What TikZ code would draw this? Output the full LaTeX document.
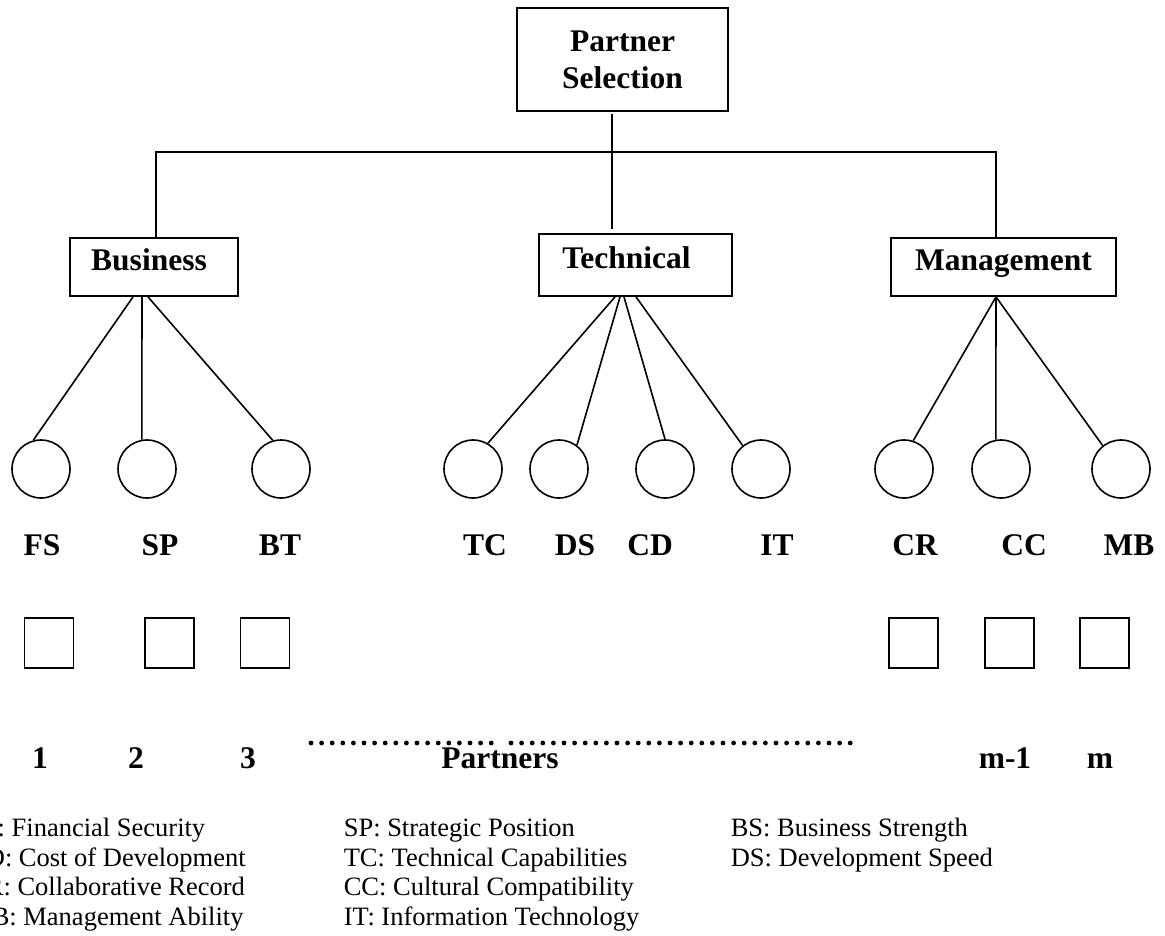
\documentclass[tikz,border=0pt]{standalone}
\usepackage{fontspec}
\setmainfont{Liberation Serif}
\newcommand\boldlabel{\fontsize{31.5}{37}\selectfont\bfseries}
\newcommand\legendtext{\fontsize{26.5}{30}\selectfont}
\begin{document}
\begin{tikzpicture}[x=1pt,y=-1pt,
  line width=1.6pt,
  catbox/.style={draw, line width=1.8pt, inner sep=0pt, font=\boldlabel,
                 text height=0.68em, text depth=0pt},
  crit/.style={draw, circle, minimum size=58pt, inner sep=0pt},
  slot/.style={draw, line width=1.8pt, minimum width=49pt, minimum height=50pt, inner sep=0pt},
  tag/.style={anchor=base, font=\boldlabel, inner sep=0pt},
  legend/.style={anchor=base west, font=\legendtext, inner sep=0pt},
  dotline/.style={line width=4.8pt, line cap=round, dash pattern=on 0pt off 10.6pt}]

\useasboundingbox (0,0) rectangle (1165,936);
\clip (0,0) rectangle (1165,936);

% goal and the three criterion groups
\node[catbox, minimum width=211pt, minimum height=103pt, align=center,
      text height=, text depth=] (ps) at (622.5,59.5) {Partner\\Selection};
\node[catbox, minimum width=168pt, minimum height=58pt] (bus) at (154,267) {\hspace*{-10pt}Business};
\node[catbox, minimum width=193pt, minimum height=62pt] (tech) at (635.5,265) {\hspace*{-18pt}Technical};
\node[catbox, minimum width=225pt, minimum height=58pt] (mgt) at (1003.5,267) {Management};

% tree junctions
\coordinate (trunk) at (612,152);
\coordinate (jl) at (156,152);
\coordinate (jr) at (996,152);

\draw[shorten <=2pt, shorten >=4pt] (trunk |- ps.south) -- (trunk |- tech.north);
\draw (jl |- bus.north) -- (jl) -- (jr) -- (jr |- mgt.north);

% sub-criteria
\node[crit] (fs) at (41,469) {};
\node[crit] (sp) at (147,469) {};
\node[crit] (bt) at (281,469) {};
\node[crit] (tc) at (473,469) {};
\node[crit] (ds) at (559,469) {};
\node[crit] (cd) at (665,469) {};
\node[crit] (it) at (761,469) {};
\node[crit] (cr) at (904,469) {};
\node[crit] (cc) at (1001,469) {};
\node[crit] (mb) at (1121,469) {};

\draw ([xshift=-21pt]bus.south) -- (fs.105);
\draw ([xshift=-12pt]bus.south) -- (sp.100);
\draw ([xshift=-6pt]bus.south) -- (bt.106);

\draw ([xshift=-20.5pt]tech.south) -- (tc.60);
\draw ([xshift=-15.5pt]tech.south) -- (ds.53);
\draw ([xshift=-11.5pt]tech.south) -- (cd.90);
\draw ([xshift=0.5pt]tech.south) -- (it.128);

\draw ([xshift=-7.5pt]mgt.south) -- (cr.72);
\draw ([xshift=-7.5pt]mgt.south) -- (cc.100);
\draw ([xshift=-7.5pt]mgt.south) -- (mb.128);

% sub-criteria labels
\node[tag] (lfs) at (42,555) {FS};
\node[tag] (lsp) at (160,555) {SP};
\node[tag] (lbt) at (280,555) {BT};
\node[tag] (ltc) at (485,555) {TC};
\node[tag] (lds) at (575,555) {DS};
\node[tag] (lcd) at (650,555) {CD};
\node[tag] (lit) at (777,555) {IT};
\node[tag] (lcr) at (915,555) {CR};
\node[tag] (lcc) at (1024,555) {CC};
\node[tag] (lmb) at (1129,555) {MB};

% partner alternatives
\node[slot] (p1) at (49,643) {};
\node[slot] (p2) at (169.5,643) {};
\node[slot] (p3) at (265,643) {};
\node[slot] (pm2) at (913.5,643) {};
\node[slot] (pm1) at (1009.5,643) {};
\node[slot] (pm) at (1104.5,643) {};

\node[tag] (n1) at (40,768) {1};
\node[tag] (n2) at (136,768) {2};
\node[tag] (n3) at (248,768) {3};
\node[tag] (npart) at (500,768) {Partners};
\node[tag] (nm1) at (1005,768) {m-1};
\node[tag] (nm) at (1100,768) {m};

% ellipsis between the alternatives
\coordinate (da) at (311,743);
\coordinate (db) at (496,743);
\coordinate (dc) at (511,743);
\coordinate (dd) at (856,743);
\draw[dotline] (da) -- (db);
\draw[dotline] (dc) -- (dd);

% abbreviations
\node[legend] (k1) at (-32.6,836.5) {FS: Financial Security};
\node[legend] (k2) at (-32.6,866) {CD: Cost of Development};
\node[legend] (k3) at (-32.6,895.5) {CR: Collaborative Record};
\node[legend] (k4) at (-32.6,925) {MB: Management Ability};
\node[legend] (k5) at (343,836.5) {SP: Strategic Position};
\node[legend] (k6) at (343,866) {TC: Technical Capabilities};
\node[legend] (k7) at (343,895.5) {CC: Cultural Compatibility};
\node[legend] (k8) at (343,925) {IT: Information Technology};
\node[legend] (k9) at (730,836.5) {BS: Business Strength};
\node[legend] (k10) at (730,866) {DS: Development Speed};
\end{tikzpicture}
\end{document}
